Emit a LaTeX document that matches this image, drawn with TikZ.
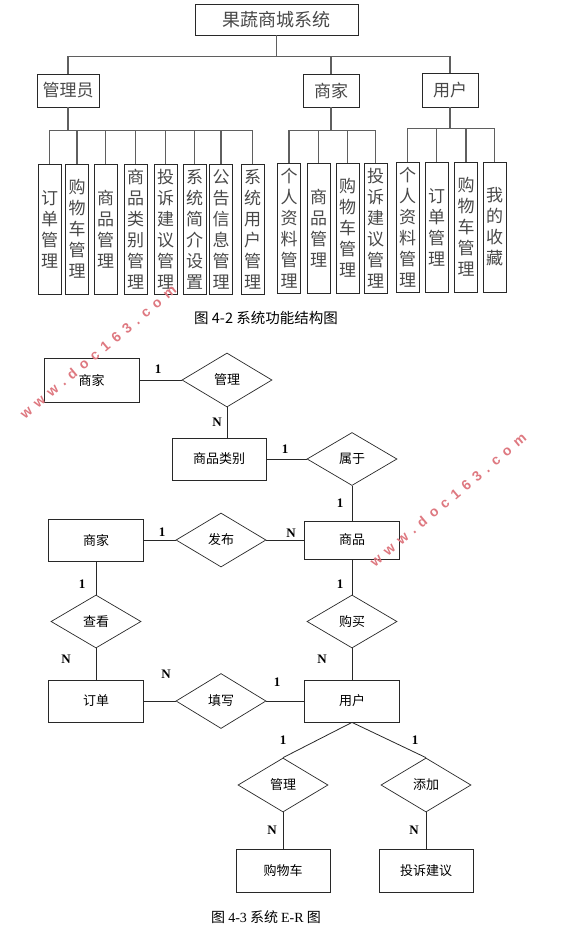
\documentclass[tikz,border=0pt]{standalone}
\usepackage{fontspec}
\setmainfont{Noto Sans CJK SC}
\newfontfamily\latinserif{Liberation Serif}
\newfontfamily\wmfont{Liberation Sans}[LetterSpace=45]
\usetikzlibrary{shapes.geometric}
\definecolor{ink}{RGB}{40,40,40}
\definecolor{treeline}{RGB}{95,95,95}
\definecolor{mark}{RGB}{222,120,128}
\tikzset{
  module/.style={draw=ink,line width=0.9pt,minimum width=#1,minimum height=33pt,inner sep=0pt,
    font=\fontsize{17}{17}\selectfont,text=ink!85},
  func/.style={draw=ink,line width=0.9pt,minimum width=23pt,minimum height=130pt,inner sep=0pt,
    align=center,font=\fontsize{17}{21}\selectfont,text=ink!85},
  branch/.style={draw=treeline,line width=1.2pt},
  entity/.style={draw=ink,line width=0.8pt,minimum width=95pt,minimum height=#1,inner sep=0pt,
    font=\fontsize{13}{13}\selectfont},
  entity/.default=42pt,
  relation/.style={diamond,draw=ink,line width=0.7pt,minimum width=90pt,minimum height=54pt,
    inner sep=0pt,font=\fontsize{13}{13}\selectfont},
  card/.style={font=\latinserif\bfseries\fontsize{13}{13}\selectfont,inner sep=0pt},
  link/.style={draw=ink,line width=0.8pt},
  wmark/.style={font=\wmfont\bfseries\fontsize{14}{14}\selectfont,text=mark,rotate=40,inner sep=0pt},
  figcap/.style={font=\fontsize{14.5}{14.5}\selectfont,inner sep=0pt},
}
\begin{document}
\begin{tikzpicture}[x=1pt,y=-1pt]
  \useasboundingbox (0,0) rectangle (569,927);
  % function structure
  \node[module=163pt,minimum height=31pt,font=\fontsize{18}{18}\selectfont] (sys) at (276.5,19.5) {果蔬商城系统};
  \node[module=62pt] (adm) at (68,90.5) {管理员};
  \node[module=56pt] (mer) at (331,90.5) {商家};
  \node[module=56pt,minimum height=34pt] (usr) at (450,90) {用户};
  \draw[branch] (sys.south) -- ++(0,22);
  \draw[branch] (adm.north) -- ++(0,-17) -| (usr.north);
  \draw[branch] (mer.north) -- ++(0,-17);

  \foreach \x/\t [count=\i] in {49.5/订\\单\\管\\理, 77/购\\物\\车\\管\\理, 105.5/商\\品\\管\\理,
      135.5/商\\品\\类\\别\\管\\理, 165.5/投\\诉\\建\\议\\管\\理, 194.5/系\\统\\简\\介\\设\\置,
      221/公\\告\\信\\息\\管\\理, 252.5/系\\统\\用\\户\\管\\理}
    \node[func] (adm\i) at (\x,229) {\t};
  \foreach \x/\t [count=\i] in {289/个\\人\\资\\料\\管\\理, 318.5/商\\品\\管\\理,
      347.5/购\\物\\车\\管\\理, 375.5/投\\诉\\建\\议\\管\\理}
    \node[func] (mer\i) at (\x,228) {\t};
  \foreach \x/\t [count=\i] in {407.5/个\\人\\资\\料\\管\\理, 436.5/订\\单\\管\\理,
      466/购\\物\\车\\管\\理, 494.5/我\\的\\收\\藏}
    \node[func] (usr\i) at (\x,227) {\t};

  \draw[branch] (adm.south) -- ++(0,24);
  \draw[branch] (adm1.north) -- ++(0,-33) -| (adm8.north);
  \foreach \i in {2,...,7} \draw[branch] (adm\i.north) -- ++(0,-33);
  \draw[branch] (mer.south) -- ++(0,24);
  \draw[branch] (mer1.north) -- ++(0,-32) -| (mer4.north);
  \foreach \i in {2,3} \draw[branch] (mer\i.north) -- ++(0,-32);
  \draw[branch] (usr.south) -- ++(0,22);
  \draw[branch] (usr1.north) -- ++(0,-33) -| (usr4.north);
  \foreach \i in {2,3} \draw[branch] (usr\i.north) -- ++(0,-33);

  \node[figcap] (cap1) at (266,318) {图 4-2 系统功能结构图};

  % E-R diagram
  \node[entity=44pt] (shop1) at (91.5,380) {商家};
  \node[relation] (manage1) at (227,380) {管理};
  \node[entity,minimum width=94pt] (cat) at (219,459) {商品类别};
  \node[relation,minimum height=53pt] (belong) at (352,459) {属于};
  \node[entity=38pt] (goods) at (352,540) {商品};
  \node[entity] (shop2) at (96,540) {商家};
  \node[relation] (publish) at (221,540) {发布};
  \node[relation,minimum height=53pt] (view) at (96,621.5) {查看};
  \node[entity] (order) at (96,701) {订单};
  \node[relation,minimum height=55pt] (fill) at (221,701) {填写};
  \node[relation,minimum height=53pt] (buy) at (352,621.5) {购买};
  \node[entity] (user) at (352,701) {用户};
  \node[relation] (manage2) at (283,785) {管理};
  \node[relation] (add) at (426,785) {添加};
  \node[entity=43pt,minimum width=94pt] (cart) at (283,870.5) {购物车};
  \node[entity=43pt,minimum width=94pt] (advice) at (426,870.5) {投诉建议};

  \draw[link] (shop1.east) -- (manage1.west);
  \draw[link] (manage1.south) -- (manage1.south |- cat.north);
  \draw[link] (cat.east) -- (belong.west);
  \draw[link] (belong.south) -- (goods.north);
  \draw[link] (shop2.east) -- (publish.west);
  \draw[link] (publish.east) -- (goods.west);
  \draw[link] (shop2.south) -- (view.north);
  \draw[link] (view.south) -- (order.north);
  \draw[link] (order.east) -- (fill.west);
  \draw[link] (fill.east) -- (user.west);
  \draw[link] (goods.south) -- (buy.north);
  \draw[link] (buy.south) -- (user.north);
  \draw[link] (user.south) -- (manage2.north);
  \draw[link] (user.south) -- (add.north);
  \draw[link] (manage2.south) -- (cart.north);
  \draw[link] (add.south) -- (advice.north);

  \foreach \p/\t [count=\i] in {{158,369}/1, {217,422}/N, {285,449}/1, {340,503}/1, {291,533}/N,
      {162,532}/1, {82,584}/1, {340,584}/1, {66,659}/N, {322,659}/N, {166,674}/N, {277,682}/1,
      {283,740}/1, {415,740}/1, {272,830}/N, {414,830}/N}
    \node[card] (card\i) at (\p) {\t};

  \node[figcap,font=\fontsize{14}{14}\selectfont] (cap2) at (266,917) {图 {\latinserif 4-3} 系统 {\latinserif E-R} 图};

  \node[wmark] (wm1) at (98,352) {www.doc163.com};
  \node[wmark] (wm2) at (448,500) {www.doc163.com};
\end{tikzpicture}
\end{document}
